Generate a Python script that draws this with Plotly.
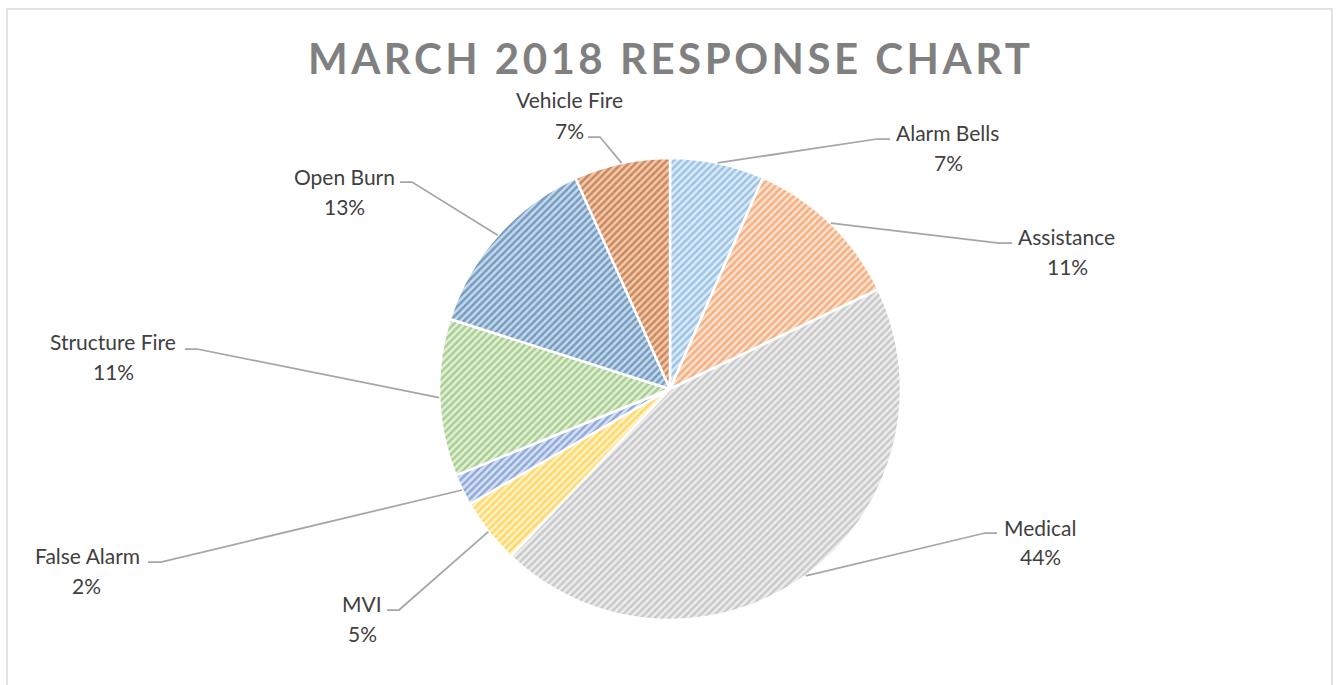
import math
import plotly.graph_objects as go

# ---------------- data (share of responses, %) ----------------
categories = ["Alarm Bells", "Assistance", "Medical", "MVI", "False Alarm",
              "Structure Fire", "Open Burn", "Vehicle Fire"]
shares = [6.6, 11.3, 44.2, 4.6, 2.2, 11.0, 13.4, 6.7]
title_text = "MARCH 2018 RESPONSE CHART"

# ---------------- style ----------------
fg_colors = ["#5B9BD5", "#ED7D31", "#A5A5A5", "#FFC000", "#4472C4",
             "#70AD47", "#255E91", "#9E480E"]
bg_colors = ["#DDEBF7", "#FBE2D0", "#EDEDED", "#FFF2CC", "#D9E2F3",
             "#E2EFD9", "#C5D8EC", "#F4C9AC"]

W, H = 1338, 685
CX, CY, R = 670, 389, 231          # pie centre / radius in pixels
FONT = "Lato"
TXT = "#404040"
LEADER = "#A6A6A6"

# label placement (layout only): name centre, pct centre, elbow segment
label_layout = {
    "Vehicle Fire":   dict(name=(569, 99),   pct=(569, 130),  elbow=((588, 137), (600, 137))),
    "Alarm Bells":    dict(name=(947, 132),  pct=(948, 162),  elbow=((890, 139), (877, 139))),
    "Assistance":     dict(name=(1066, 236), pct=(1067, 266), elbow=((1012, 243), (999, 243))),
    "Medical":        dict(name=(1040, 527), pct=(1040, 556), elbow=((997, 533), (985, 533))),
    "MVI":            dict(name=(362, 603),  pct=(362, 633),  elbow=((387, 610), (399, 610))),
    "False Alarm":    dict(name=(87, 555),   pct=(86, 585),   elbow=((148, 562), (161, 562))),
    "Structure Fire": dict(name=(113, 341),  pct=(113, 371),  elbow=((185, 349), (197, 349))),
    "Open Burn":      dict(name=(344, 176),  pct=(344, 206),  elbow=((400, 182), (412, 182))),
}

total = sum(shares)

fig = go.Figure()
fig.add_trace(go.Pie(
    labels=categories,
    values=shares,
    sort=False,
    direction="clockwise",
    rotation=0,
    textinfo="none",
    hoverinfo="label+percent",
    showlegend=False,
    domain=dict(x=[(CX - R) / W, (CX + R) / W],
                y=[(H - CY - R) / H, (H - CY + R) / H]),
    marker=dict(
        colors=bg_colors,
        line=dict(color="white", width=2.5),
        pattern=dict(shape="/", fgcolor=fg_colors, bgcolor=bg_colors,
                     size=5, solidity=0.5, fillmode="overlay"),
    ),
))

shapes = []
annotations = []
cum = 0
for cat, v in zip(categories, shares):
    mid = (cum + v / 2) / total * 2 * math.pi
    cum += v
    px = CX + R * math.sin(mid)
    py = CY - R * math.cos(mid)
    lay = label_layout[cat]
    (x0, y0), (x1, y1) = lay["elbow"]
    shapes.append(dict(type="path", xref="x", yref="y",
                       path=f"M {x0},{y0} L {x1},{y1} L {px:.1f},{py:.1f}",
                       line=dict(color=LEADER, width=1.75)))
    pct = round(v / total * 100)
    for txt, (tx, ty) in ((cat, lay["name"]), (f"{pct}%", lay["pct"])):
        annotations.append(dict(x=tx, y=ty, xref="x", yref="y", text=txt,
                                showarrow=False, xanchor="center", yanchor="middle",
                                font=dict(family=FONT, size=21, color=TXT)))

# chart border
shapes.append(dict(type="rect", xref="x", yref="y", x0=7, y0=9, x1=1332, y1=H + 5,
                   line=dict(color="#D9D9D9", width=1.5)))

annotations.append(dict(x=669, y=58, xref="x", yref="y", text=title_text,
                        showarrow=False, xanchor="center", yanchor="middle",
                        font=dict(family=FONT, size=42, color="#808080", weight=700)))

fig.update_layout(
    width=W, height=H,
    margin=dict(l=0, r=0, t=0, b=0),
    paper_bgcolor="white", plot_bgcolor="white",
    xaxis=dict(range=[0, W], visible=False, fixedrange=True),
    yaxis=dict(range=[H, 0], visible=False, fixedrange=True),
    shapes=shapes,
    annotations=annotations,
)

post = """
document.body.style.margin='0';
document.body.style.overflow='hidden';
document.querySelectorAll('text.annotation-text').forEach(function(t){
  if (t.textContent === '%s') {
    t.setAttribute('letter-spacing', '3.5px');
    t.setAttribute('dx', '1.75');
  }
});
""" % title_text

fig.write_html("out.html", config={"displayModeBar": False}, post_script=post)
